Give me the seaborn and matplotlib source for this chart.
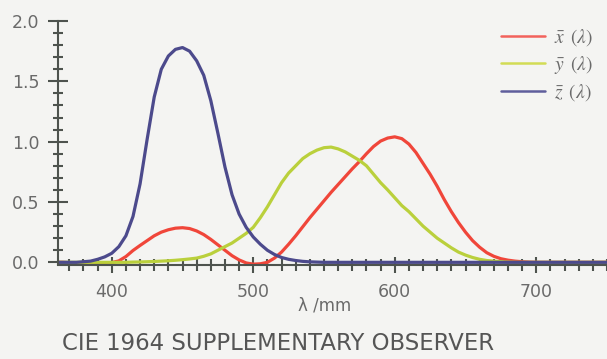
import matplotlib
matplotlib.use("Agg")
import matplotlib.pyplot as plt
import numpy as np
import pandas as pd
import seaborn as sns
from matplotlib.ticker import MultipleLocator

# Wavelength grid (nm)
wavelength = list(range(360, 755, 5))

# Colour-matching functions, 10-degree observer
x_bar = [0.0, 0.0, -0.003, -0.006, -0.008, -0.008, -0.007, -0.005, -0.002, 0.012,
         0.048, 0.098, 0.14, 0.18, 0.22, 0.25, 0.27, 0.283, 0.287, 0.28,
         0.26, 0.23, 0.19, 0.145, 0.10, 0.055, 0.02, -0.005, -0.015, -0.012,
         0.0, 0.035, 0.085, 0.15, 0.22, 0.295, 0.37, 0.44, 0.51, 0.58,
         0.645, 0.71, 0.775, 0.835, 0.90, 0.96, 1.005, 1.03, 1.04, 1.025,
         0.98, 0.91, 0.82, 0.73, 0.63, 0.52, 0.42, 0.33, 0.25, 0.18,
         0.125, 0.08, 0.05, 0.03, 0.018, 0.01, 0.005, 0.002, 0.0, 0.0,
         0.0, 0.0, 0.0, 0.0, 0.0, 0.0, 0.0, 0.0, 0.0]
y_bar = [0.0, 0.0, 0.0, 0.0, 0.0, 0.0, 0.0, 0.0, 0.0, 0.0,
         0.0, 0.002, 0.003, 0.005, 0.007, 0.01, 0.013, 0.017, 0.022, 0.028,
         0.035, 0.05, 0.07, 0.10, 0.13, 0.16, 0.20, 0.24, 0.29, 0.37,
         0.46, 0.56, 0.66, 0.74, 0.80, 0.86, 0.90, 0.93, 0.95, 0.955,
         0.94, 0.915, 0.88, 0.845, 0.80, 0.73, 0.66, 0.60, 0.535, 0.47,
         0.42, 0.36, 0.30, 0.25, 0.20, 0.16, 0.12, 0.085, 0.06, 0.04,
         0.025, 0.015, 0.01, 0.005, 0.002, 0.0, 0.0, 0.0, 0.0, 0.0,
         0.0, 0.0, 0.0, 0.0, 0.0, 0.0, 0.0, 0.0, 0.0]
z_bar = [0.0, 0.0, 0.0, 0.0, 0.005, 0.01, 0.025, 0.045, 0.075, 0.13,
         0.22, 0.38, 0.65, 1.02, 1.37, 1.60, 1.71, 1.765, 1.78, 1.75,
         1.67, 1.55, 1.34, 1.07, 0.79, 0.56, 0.40, 0.29, 0.21, 0.15,
         0.10, 0.065, 0.04, 0.025, 0.015, 0.008, 0.004, 0.002, 0.0, 0.0,
         0.0, 0.0, 0.0, 0.0, 0.0, 0.0, 0.0, 0.0, 0.0, 0.0,
         0.0, 0.0, 0.0, 0.0, 0.0, 0.0, 0.0, 0.0, 0.0, 0.0,
         0.0, 0.0, 0.0, 0.0, 0.0, 0.0, 0.0, 0.0, 0.0, 0.0,
         0.0, 0.0, 0.0, 0.0, 0.0, 0.0, 0.0, 0.0, 0.0]

series_labels = [r"$\bar{x}\ \,(\lambda)$", r"$\bar{y}\ \,(\lambda)$", r"$\bar{z}\ \,(\lambda)$"]
series_colors = ["#f0463a", "#bad03c", "#4c4a8c"]
legend_colors = ["#f2625c", "#d2dc55", "#5f5e9c"]

x_ticks = [400, 500, 600, 700]
y_ticks = [0.0, 0.5, 1.0, 1.5, 2.0]

sns.set_theme(style="white")
plt.rcParams["font.family"] = ["DejaVu Sans"]
plt.rcParams["mathtext.fontset"] = "stix"

bg = "#f4f4f2"
axis_col = "#4e534e"
text_col = "#6a6a6a"

df = pd.DataFrame({"wavelength": wavelength,
                   series_labels[0]: x_bar,
                   series_labels[1]: y_bar,
                   series_labels[2]: z_bar})
long = df.melt(id_vars="wavelength", var_name="curve", value_name="value")

fig = plt.figure(figsize=(6.07, 3.59), dpi=100, facecolor=bg)
ax = fig.add_axes([58 / 607, (359 - 264.5) / 359, 1 - 58 / 607, (264.5 - 21) / 359])
ax.set_facecolor(bg)

sns.lineplot(data=long, x="wavelength", y="value", hue="curve",
             hue_order=series_labels, palette=dict(zip(series_labels, series_colors)),
             linewidth=2.3, ax=ax, legend=True,
             solid_joinstyle="round", solid_capstyle="round")

ax.set_xlim(362, 750)
ax.set_ylim(-0.018, 2.0)
ax.set_xticks(x_ticks)
ax.set_yticks(y_ticks)
ax.set_yticklabels([f"{v:.1f}" for v in y_ticks])
ax.xaxis.set_minor_locator(MultipleLocator(10))
ax.yaxis.set_minor_locator(MultipleLocator(0.1))

sns.despine(ax=ax)
for side in ("left", "bottom"):
    ax.spines[side].set_color(axis_col)
    ax.spines[side].set_linewidth(1.5)

ax.tick_params(axis="y", which="major", direction="inout", length=14.4, width=1.5,
               color=axis_col, labelcolor=text_col, labelsize=12.5, pad=6, left=True)
ax.tick_params(axis="y", which="minor", direction="inout", length=7.5, width=1.5,
               color=axis_col, left=True)
ax.tick_params(axis="x", which="major", direction="inout", length=11, width=1.5,
               color=axis_col, labelcolor=text_col, labelsize=12.5, pad=8, bottom=True)
ax.tick_params(axis="x", which="minor", direction="inout", length=8, width=1.5,
               color=axis_col, bottom=True)

ax.set_xlabel("λ /mm", fontsize=12, color=text_col, labelpad=1)
ax.xaxis.set_label_coords((325 - 58) / (607 - 58), -0.13)
ax.set_ylabel("")

handles, labels = ax.get_legend_handles_labels()
leg = ax.legend(handles, labels, loc="upper right", bbox_to_anchor=(1.0, 1.03),
                frameon=False, fontsize=14, handlelength=2.25, handletextpad=0.5,
                labelspacing=0.3, borderaxespad=0.3)
for line, col in zip(leg.get_lines(), legend_colors):
    line.set_color(col)
    line.set_linewidth(1.8)
for t in leg.get_texts():
    t.set_color(text_col)

fig.text(62 / 607, 1 - 343 / 359, "CIE 1964 SUPPLEMENTARY OBSERVER",
         fontsize=16.4, color="#555555", ha="left", va="center")

fig.savefig("out.png", dpi=100, facecolor=bg)
